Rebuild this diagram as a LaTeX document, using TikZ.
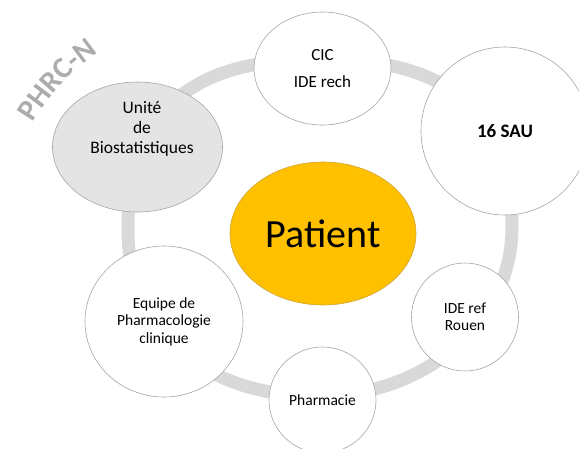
\documentclass[tikz,border=0pt]{standalone}
\usepackage{fontspec}
\setmainfont{Carlito}
\usetikzlibrary{shapes.geometric,decorations.text}
\definecolor{ringgray}{RGB}{217,217,217}
\definecolor{unitegray}{RGB}{228,228,228}
\definecolor{edgegray}{RGB}{165,165,165}
\definecolor{patientgold}{RGB}{255,192,0}
\definecolor{patientedge}{RGB}{205,165,60}
\definecolor{phrcgray}{RGB}{172,172,172}
\begin{document}
\begin{tikzpicture}[x=1pt,y=-1pt,
  bubble/.style={ellipse, draw=edgegray, line width=0.6pt, fill=white, inner sep=0pt, align=center},
  txt/.style={inner sep=0pt, align=center}
]
\useasboundingbox (0,0) rectangle (579,448);
\clip (0,0) rectangle (579,448);
% ring
\draw[ringgray, line width=13pt, line join=round]
  plot[domain=0.5:89.5, samples=45] ({320+192*cos(\x)}, {228+168*sin(\x)})
  -- plot[domain=90.5:179.5, samples=45] ({320+192*cos(\x)*abs(cos(\x))^(-0.0909)}, {228+168*sin(\x)*abs(sin(\x))^(-0.0909)})
  -- plot[domain=180.5:269.5, samples=45] ({320+192*cos(\x)*abs(cos(\x))^(-0.2)}, {228+168*sin(\x)*abs(sin(\x))^(-0.2)})
  -- plot[domain=270.5:359.5, samples=45] ({320+192*cos(\x)*abs(cos(\x))^(-0.2)}, {228+168*sin(\x)*abs(sin(\x))^(-0.2)})
  -- cycle;
% bubbles
\node[bubble, fill=unitegray, minimum width=170pt, minimum height=130pt] (unite) at (137.5,147) {};
\node[txt, font=\fontsize{17.5}{20}\selectfont] (unitetxt) at (142,129) {Unité\\de\\Biostatistiques};
\node[bubble, minimum width=137pt, minimum height=113pt, font=\fontsize{17}{20}\selectfont] (cic) at (322.5,68.5) {CIC\\[7pt]IDE rech};
\node[bubble, minimum width=168pt, minimum height=168pt, font=\fontsize{19}{22}\selectfont\bfseries] (sau) at (505,131) {16 SAU};
\node[bubble, minimum width=158pt, minimum height=151pt, font=\fontsize{15.5}{17.5}\selectfont] (equipe) at (164,321.5) {Equipe de\\Pharmacologie\\clinique};
\node[bubble, minimum width=107pt, minimum height=108pt, font=\fontsize{15.5}{17}\selectfont] (ideref) at (465,317) {IDE ref\\Rouen};
\node[bubble, minimum width=107pt, minimum height=106pt, font=\fontsize{15.5}{18}\selectfont] (pharmacie) at (322.5,400) {Pharmacie};
% patient
\node[ellipse, fill=patientgold, draw=patientedge, line width=0.6pt, inner sep=0pt, minimum width=186pt, minimum height=143pt, font=\fontsize{40}{48}\selectfont] (patient) at (323,233.5) {Patient};
% PHRC-N along an arc
\path[decorate, decoration={text along path, text color=phrcgray, text align=center,
    text={|\fontsize{30}{30}\selectfont\bfseries|PHRC-N}}]
  plot[domain=198:248, samples=40] ({218+214*cos(\x)}, {230+214*sin(\x)});
\end{tikzpicture}
\end{document}
